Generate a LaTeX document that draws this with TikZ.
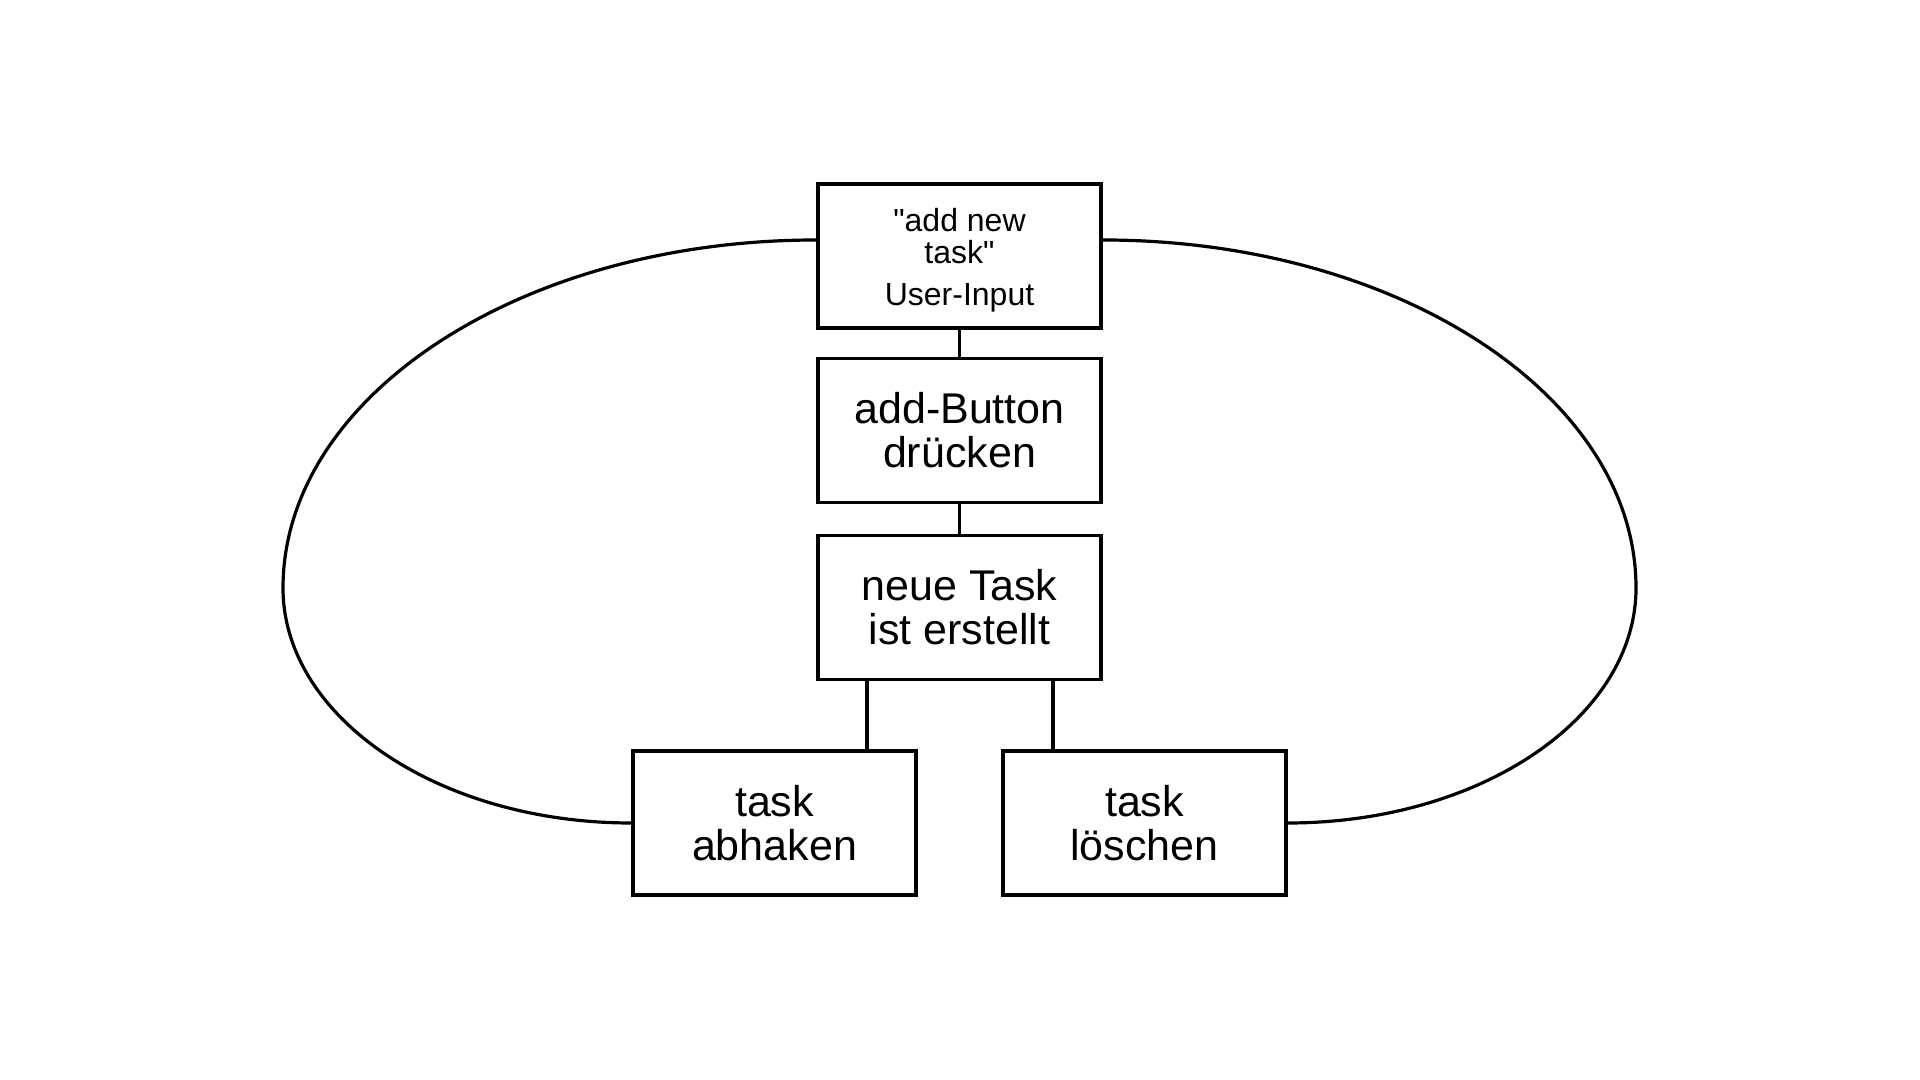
\documentclass[tikz,border=0pt]{standalone}
\usepackage{fontspec}
\setmainfont{Liberation Sans}
\newfontfamily\inputfont{Liberation Sans}

\begin{document}
\begin{tikzpicture}[x=0.5pt, y=0.5pt,
    taskbox/.style={draw, line width=1.8pt, minimum width=141.5pt, minimum height=72pt,
      inner sep=0pt, align=center, font=\fontsize{21.5}{22}\selectfont},
    link/.style={line width=1.8pt},
    ring/.style={line width=1.6pt}]
    \useasboundingbox (0,0) rectangle (1920,1080);

    \node[taskbox, font=\inputfont\fontsize{16}{16}\selectfont] (input) at (959.5,824)
      {\rule{0pt}{15.5pt}"add new\\task"\\[5pt]User-Input};
    \node[taskbox] (button)  at (959.5,649.5) {add-Button\\drücken};
    \node[taskbox] (created) at (959.5,472.5) {neue Task\\ist erstellt};
    \node[taskbox] (check)   at (774.5,257)   {task\\abhaken};
    \node[taskbox] (delete)  at (1144.5,257)  {task\\löschen};

    \coordinate (lbranch) at (867,0);
    \coordinate (rbranch) at (1053,0);
    \coordinate (lfar) at (283,492);
    \coordinate (rfar) at (1636,492);

    \draw[link] (input) -- (button);
    \draw[link] (button) -- (created);
    \draw[link] (created.south -| lbranch) -- (check.north -| lbranch);
    \draw[link] (created.south -| rbranch) -- (delete.north -| rbranch);
    \draw[ring] ([yshift=8pt]input.west) .. controls +(-295,0) and +(0,192) .. (lfar)
      .. controls +(0,-129) and +(-193,0) .. (check.west);
    \draw[ring] ([yshift=8pt]input.east) .. controls +(295,0) and +(0,192) .. (rfar)
      .. controls +(0,-129) and +(193,0) .. (delete.east);
\end{tikzpicture}
\end{document}
